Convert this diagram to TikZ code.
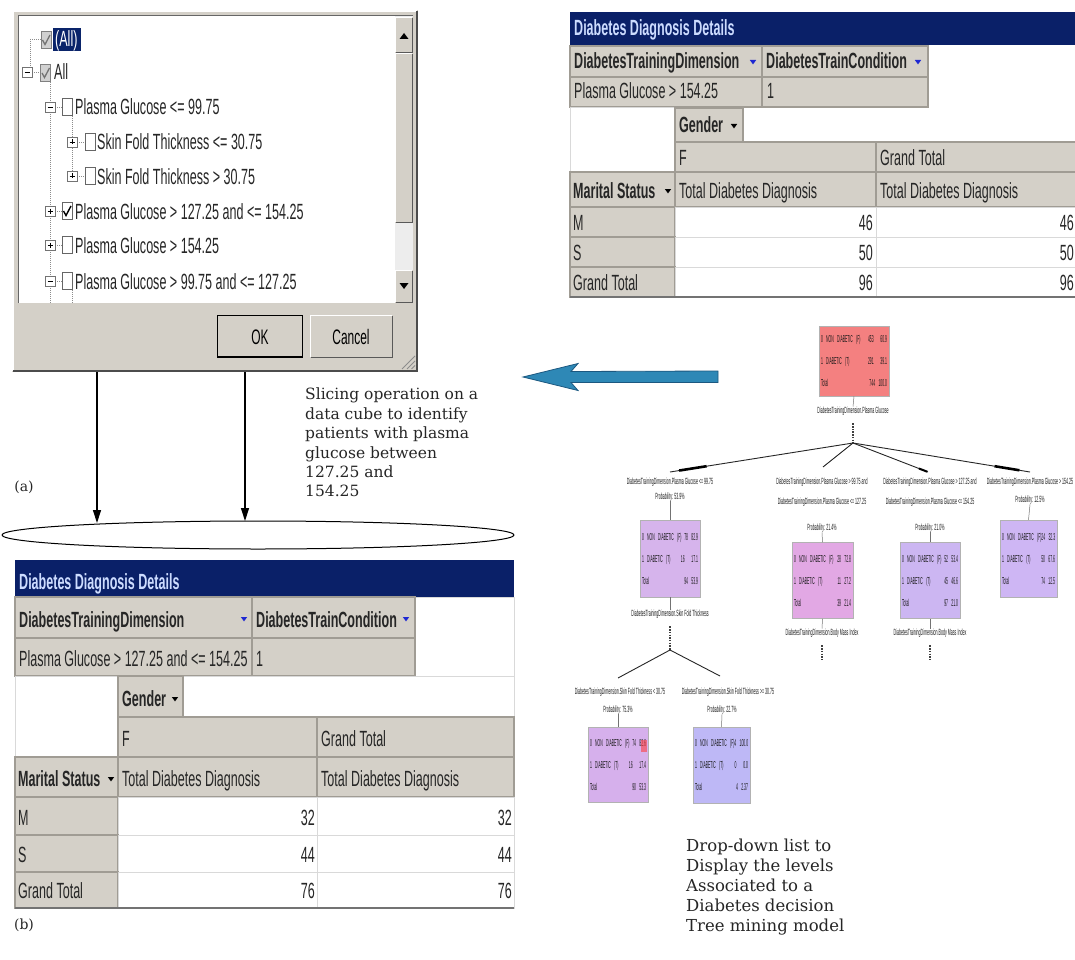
\documentclass[tikz,border=0pt]{standalone}
\usepackage{fontspec}
\usetikzlibrary{arrows.meta,calc,shapes.geometric}
\setmainfont{DejaVu Serif}
\newfontfamily\nrw[FakeStretch=0.57]{Liberation Sans}
\newfontfamily\tnrw[FakeStretch=0.4]{Liberation Sans}
\newfontfamily\bnrw[FakeStretch=0.34]{Liberation Sans}
\definecolor{tblnavy}{RGB}{10,32,104}
\definecolor{titletxt}{RGB}{205,220,255}
\definecolor{cellgray}{RGB}{212,208,200}
\definecolor{cellline}{RGB}{160,156,148}
\definecolor{selblue}{RGB}{10,36,106}
\definecolor{ddblue}{RGB}{30,40,210}
\definecolor{arrowblue}{RGB}{46,136,182}
\definecolor{arrowedge}{RGB}{28,88,128}
\definecolor{rootred}{RGB}{244,128,128}
\definecolor{lavA}{RGB}{214,180,236}
\definecolor{lavB}{RGB}{226,168,228}
\definecolor{lavC}{RGB}{204,182,242}
\definecolor{lavD}{RGB}{206,182,244}
\definecolor{lavE}{RGB}{214,176,236}
\definecolor{lavF}{RGB}{190,184,246}
\newcommand\gcell[4]{\path[gcellsty] (#1,#2) rectangle (#3,#4);}
\newcommand\wcell[4]{\path[wcellsty] (#1,#2) rectangle (#3,#4);}
\newcommand\raisedbox[4]{%
  \fill[cellgray] (#1,#2) rectangle (#3,#4);
  \draw[white,line width=1.2] (#1+0.6,#4-0.6) -- (#1+0.6,#2+0.6) -- (#3-0.6,#2+0.6);
  \draw[black!65,line width=1.2] (#1+0.6,#4-0.6) -- (#3-0.6,#4-0.6) -- (#3-0.6,#2+0.6);}
% one row of a tree box: label on the left, counts on the right
\newcommand\boxrow[2]{\hbox to\hsize{#1\hfil #2}}
\newcommand\boxrows[3]{\vbox{\boxrow{0 NON DIABETIC (F)}{#1}\boxrow{1 DIABETIC (T)}{#2}\boxrow{Total}{#3}}}
\tikzset{
  tt/.style={inner sep=0pt, anchor=base west, text=black!85, font=\nrw\fontsize{22}{24}\selectfont},
  ttb/.style={tt, font=\nrw\bfseries\fontsize{22}{24}\selectfont},
  tn/.style={tt, anchor=base east},
  btn/.style={inner sep=0pt, font=\nrw\fontsize{21}{23}\selectfont},
  capsty/.style={inner sep=0pt, text=black!85},
  gcellsty/.style={fill=cellgray, draw=cellline, line width=1.1},
  wcellsty/.style={fill=white, draw=black!15, line width=0.8},
  treedot/.style={black!45, dash pattern=on 1pt off 1pt, line width=0.7},
  tlab/.style={inner sep=0pt, text=black!90, font=\tnrw\fontsize{9}{9.5}\selectfont},
  tbox/.style={draw=black!30, line width=0.5, inner sep=2pt, text=black!90,
    font=\bnrw\fontsize{10}{22}\selectfont},
  tick/.style={black!55, line width=0.5},
  stub/.style={black!75, line width=1.3, dash pattern=on 1.5pt off 1.2pt},
  branch/.style={black!85, line width=0.9},
  vdown/.style={black, line width=1.3, -{Triangle[length=13pt,width=8pt]}},
  expminus/.pic={\draw[black!55, fill=white, line width=0.6] (-5,-5) rectangle (5,5);
    \draw[black, line width=0.8] (-2.5,0) -- (2.5,0);},
  expplus/.pic={\draw[black!55, fill=white, line width=0.6] (-5,-5) rectangle (5,5);
    \draw[black, line width=0.8] (-2.5,0) -- (2.5,0) (0,-2.5) -- (0,2.5);},
  chkbox/.pic={\draw[black!60, fill=white, line width=0.7] (-5,-8.5) rectangle (5,8.5);},
  chkon/.pic={\draw[black!60, fill=white, line width=0.7] (-5,-8.5) rectangle (5,8.5);
    \draw[black, line width=1.4] (-3.5,0) -- (-1,4.5) -- (4,-5);},
  chkgray/.pic={\draw[black!50, fill=black!18, line width=0.7] (-5,-8.5) rectangle (5,8.5);
    \draw[black!55, line width=1.3] (-3.5,0) -- (-1,4.5) -- (4,-5);},
  ddmark/.pic={\fill (-3.2,-2) -- (3.2,-2) -- (0,2.4) -- cycle;},
}
\begin{document}
\begin{tikzpicture}[x=1pt,y=-1pt]
\clip (0,0) rectangle (1075,960);
\fill[white] (0,0) rectangle (1075,960);

% ---------- filter dialog ----------
\fill[cellgray] (12,10) rectangle (418,372);
\draw[white,line width=1.5] (12.8,371) -- (12.8,10.8) -- (417,10.8);
\draw[black!70,line width=1.5] (12.8,371.2) -- (417.2,371.2) -- (417.2,10.8);
\fill[white] (18,16) rectangle (395,303);
\draw[black!60,line width=1] (18,303) -- (18,16) -- (413,16);
% scroll bar
\fill[black!7] (395,16.5) rectangle (413,303);
\raisedbox{395}{17}{413}{53}
\fill[black] (399.5,39) -- (408.5,39) -- (404,33) -- cycle;
\raisedbox{395}{53}{413}{223}
\raisedbox{395}{270}{413}{303}
\fill[black] (399.5,283) -- (408.5,283) -- (404,289) -- cycle;
% tree lines of the member list
\draw[treedot] (30,39) -- (41,39) (30,39) -- (30,67) (32,72) -- (40,72);
\draw[treedot] (50,82) -- (50,303) (72,116) -- (72,176) (72,290) -- (72,303);
\foreach \c in {107,211,245,281} {\draw[treedot] (55,\c) -- (62,\c);}
\foreach \c in {142,176} {\draw[treedot] (77,\c) -- (85,\c);}
% members
\path (46,40) pic {chkgray};
\fill[selblue] (53,28) rectangle (81,51);
\node[tt, text=white] (mAllp) at (55,47) {(All)};
\path (27,72) pic {expminus};
\path (45.5,73) pic {chkgray};
\node[tt] (mAll) at (54,80) {All};
\path (50,107) pic {expminus};   \path (67,107) pic {chkbox};
\node[tt] (m1) at (75,115) {Plasma Glucose <= 99.75};
\path (72,142) pic {expplus};    \path (90,142) pic {chkbox};
\node[tt] (m2) at (97,150) {Skin Fold Thickness <= 30.75};
\path (72,176) pic {expplus};    \path (90,176) pic {chkbox};
\node[tt] (m3) at (97,184) {Skin Fold Thickness > 30.75};
\path (50,211) pic {expplus};    \path (67,211) pic {chkon};
\node[tt] (m4) at (75,219) {Plasma Glucose > 127.25 and <= 154.25};
\path (50,245) pic {expplus};    \path (67,245) pic {chkbox};
\node[tt] (m5) at (75,253) {Plasma Glucose > 154.25};
\path (50,281) pic {expminus};   \path (67,281) pic {chkbox};
\node[tt] (m6) at (75,289) {Plasma Glucose > 99.75 and <= 127.25};
% buttons
\raisedbox{217}{315}{303}{358}
\draw[black,line width=1] (217.5,315.5) rectangle (302.5,357.5);
\draw[black,line width=2.5] (217,357) -- (303,357);
\node[btn] (okb) at (260,337) {OK};
\raisedbox{310}{315}{393}{358}
\node[btn] (cnb) at (351,337) {Cancel};
\draw[black!45,line width=1] (402,369) -- (415,356) (407,369) -- (415,361) (411.5,369) -- (415,365.5);

% ---------- arrows down to the slice ----------
\coordinate (dA) at (97,372);
\coordinate (dB) at (245,372);
\node[draw, line width=1, ellipse, minimum width=512, minimum height=28, inner sep=0] (slice) at (258,535) {};
\coordinate (eA) at (97,523);
\coordinate (eB) at (245,521);
\draw[vdown] (dA) -- (eA);
\draw[vdown] (dB) -- (eB);
\node[capsty, font=\fontsize{14}{16}\selectfont] (labA) at (24,487) {(a)};
\node[capsty, anchor=north west, align=left, font=\fontsize{15.5}{19.4}\selectfont] (slc) at (305,388)
  {Slicing operation on a\\data cube to identify\\patients with plasma\\glucose between\\127.25 and\\154.25};

% ---------- block arrow ----------
\filldraw[fill=arrowblue, draw=arrowedge, line width=0.8]
  (523,377) -- (578,363.5) -- (571,371.5) -- (718,371) -- (718,382.5) -- (571,382.5) -- (578,390.5) -- cycle;

% ---------- upper pivot table ----------
\fill[tblnavy] (570,12) rectangle (1075,45);
\node[ttb, text=titletxt] (uT) at (574,36) {Diabetes Diagnosis Details};
\gcell{570}{46}{762}{77} \gcell{762}{46}{928}{77}
\gcell{570}{77}{762}{107} \gcell{762}{77}{928}{107}
\node[ttb] (uT1) at (574,69) {DiabetesTrainingDimension};
\path (753,62) pic[color=ddblue] {ddmark};
\node[ttb] (uT2) at (766,69) {DiabetesTrainCondition};
\path (918,62) pic[color=ddblue] {ddmark};
\node[tt] (uT3) at (574,99) {Plasma Glucose > 154.25};
\node[tt] (uT4) at (767,99) {1};
\wcell{570}{107}{675}{172}
\gcell{675}{108}{743}{142}
\node[ttb] (uT5) at (679,133) {Gender};
\path (734,126) pic {ddmark};
\gcell{675}{142}{876}{172} \gcell{876}{142}{1080}{172}
\node[tt] (uT6) at (679,165) {F};
\node[tt] (uT7) at (880,165) {Grand Total};
\gcell{570}{172}{675}{207} \gcell{675}{172}{876}{207} \gcell{876}{172}{1080}{207}
\node[ttb] (uT8) at (573,198) {Marital Status};
\path (668,191) pic {ddmark};
\node[tt] (uT9) at (679,198) {Total Diabetes Diagnosis};
\node[tt] (uT10) at (880,198) {Total Diabetes Diagnosis};
\gcell{570}{207}{675}{237} \wcell{675}{207}{876}{237} \wcell{876}{207}{1080}{237}
\gcell{570}{237}{675}{267} \wcell{675}{237}{876}{267} \wcell{876}{237}{1080}{267}
\gcell{570}{267}{675}{297} \wcell{675}{267}{876}{297} \wcell{876}{267}{1080}{297}
\node[tt] (uM) at (573,230) {M};
\node[tn] (uM1) at (873,230) {46};
\node[tn] (uM2) at (1074,230) {46};
\node[tt] (uS) at (573,260) {S};
\node[tn] (uS1) at (873,260) {50};
\node[tn] (uS2) at (1074,260) {50};
\node[tt] (uG) at (573,290) {Grand Total};
\node[tn] (uG1) at (873,290) {96};
\node[tn] (uG2) at (1074,290) {96};
\draw[black!55,line width=1.5] (570,297) -- (1075,297);

% ---------- lower pivot table ----------
\fill[tblnavy] (15,560) rectangle (514,597);
\node[ttb, text=titletxt] (bT) at (19,589) {Diabetes Diagnosis Details};
\wcell{415}{597}{514}{676}
\gcell{15}{597}{252}{638} \gcell{252}{597}{415}{638}
\gcell{15}{638}{252}{676} \gcell{252}{638}{415}{676}
\node[ttb] (bT1) at (19,627) {DiabetesTrainingDimension};
\path (244,619) pic[color=ddblue] {ddmark};
\node[ttb] (bT2) at (256,627) {DiabetesTrainCondition};
\path (406,619) pic[color=ddblue] {ddmark};
\node[tt] (bT3) at (19,666) {Plasma Glucose > 127.25 and <= 154.25};
\node[tt] (bT4) at (256,666) {1};
\wcell{15}{676}{118}{757} \wcell{183}{676}{514}{717}
\gcell{118}{676}{183}{717}
\node[ttb] (bT5) at (122,706) {Gender};
\path (175,699) pic {ddmark};
\gcell{118}{717}{317}{757} \gcell{317}{717}{514}{757}
\node[tt] (bT6) at (122,746) {F};
\node[tt] (bT7) at (321,746) {Grand Total};
\gcell{15}{757}{118}{797} \gcell{118}{757}{317}{797} \gcell{317}{757}{514}{797}
\node[ttb] (bT8) at (18,786) {Marital Status};
\path (111,779) pic {ddmark};
\node[tt] (bT9) at (122,786) {Total Diabetes Diagnosis};
\node[tt] (bT10) at (321,786) {Total Diabetes Diagnosis};
\gcell{15}{797}{118}{835} \wcell{118}{797}{317}{835} \wcell{317}{797}{514}{835}
\gcell{15}{835}{118}{872} \wcell{118}{835}{317}{872} \wcell{317}{835}{514}{872}
\gcell{15}{872}{118}{908} \wcell{118}{872}{317}{908} \wcell{317}{872}{514}{908}
\node[tt] (bM) at (18,825) {M};
\node[tn] (bM1) at (315,825) {32};
\node[tn] (bM2) at (512,825) {32};
\node[tt] (bS) at (18,862) {S};
\node[tn] (bS1) at (315,862) {44};
\node[tn] (bS2) at (512,862) {44};
\node[tt] (bG) at (18,898) {Grand Total};
\node[tn] (bG1) at (315,898) {76};
\node[tn] (bG2) at (512,898) {76};
\draw[black!55,line width=1.5] (15,908) -- (514,908);
\node[capsty, font=\fontsize{14}{16}\selectfont] (labB) at (24,925) {(b)};

% ---------- decision tree ----------
\node[tbox, fill=rootred, text width=66, minimum height=70] (rt) at (854,361) {\boxrows{453\ \ 60.9}{291\ \ 39.1}{744\ 100.0}};
\node[tlab] (rtl) at (853,411) {DiabetesTrainingDimension.Plasma Glucose};
\draw[tick] (rt.south) -- (rtl.north);
\coordinate (rts) at (853,443);
\draw[stub, shorten <=8pt] (rtl.south) -- (rts);
\coordinate (c1e) at (670,472);
\coordinate (c2e) at (823,467);
\coordinate (c3e) at (928,472);
\coordinate (c4e) at (1030,472);
\draw[branch] (rts) -- (c1e);
\draw[branch] (rts) -- (c2e);
\draw[branch] (rts) -- (c3e);
\draw[branch] (rts) -- (c4e);
\draw[black, line width=2.6] ($(rts)!0.80!(c1e)$) -- ($(rts)!0.95!(c1e)$);
\draw[black, line width=2.6] ($(rts)!0.80!(c4e)$) -- ($(rts)!0.94!(c4e)$);
\draw[black, line width=2] ($(rts)!0.88!(c3e)$) -- ($(rts)!0.99!(c3e)$);

% child 1
\node[tlab] (c1l) at (670,482) {DiabetesTrainingDimension.Plasma Glucose <= 99.75};
\node[tlab] (c1p) at (670,497) {Probability: 53.9\%};
\node[tbox, fill=lavA, text width=56, minimum height=77] (c1) at (670,558.5) {\boxrows{78\ 82.9}{16\ \ 17.1}{94\ 53.9}};
\draw[tick] (c1p.south) -- (c1.north);
\node[tlab] (c1n) at (670,614) {DiabetesTrainingDimension.Skin Fold Thickness};
\draw[tick] (c1.south) -- (c1n.north);
\coordinate (c1s) at (670,650);
\draw[stub, shorten <=8pt] (c1n.south) -- (c1s);
% child 2
\node[tlab] (c2l) at (822,482) {DiabetesTrainingDimension.Plasma Glucose > 99.75 and};
\node[tlab] (c2m) at (822,502) {DiabetesTrainingDimension.Plasma Glucose <= 127.25};
\node[tlab] (c2p) at (822,528) {Probability: 21.4\%};
\node[tbox, fill=lavB, text width=57, minimum height=76] (c2) at (822.5,580.5) {\boxrows{28\ 72.8}{11\ 27.2}{39\ 21.4}};
\draw[tick] (c2p.south) -- (c2.north);
\node[tlab] (c2n) at (822,633) {DiabetesTrainingDimension.Body Mass Index};
\draw[tick] (c2.south) -- (c2n.north);
\coordinate (c2s) at (822,659);
\draw[stub, shorten <=8pt] (c2n.south) -- (c2s);
% child 3
\node[tlab] (c3l) at (930,482) {DiabetesTrainingDimension.Plasma Glucose > 127.25 and};
\node[tlab] (c3m) at (930,502) {DiabetesTrainingDimension.Plasma Glucose <= 154.25};
\node[tlab] (c3p) at (930,528) {Probability: 21.0\%};
\node[tbox, fill=lavC, text width=56, minimum height=76] (c3) at (930,580.5) {\boxrows{52\ 53.4}{45\ 46.6}{97\ 21.0}};
\draw[tick] (c3p.south) -- (c3.north);
\node[tlab] (c3n) at (930,633) {DiabetesTrainingDimension.Body Mass Index};
\draw[tick] (c3.south) -- (c3n.north);
\coordinate (c3s) at (930,659);
\draw[stub, shorten <=8pt] (c3n.south) -- (c3s);
% child 4
\node[tlab] (c4l) at (1030,482) {DiabetesTrainingDimension.Plasma Glucose > 154.25};
\node[tlab] (c4p) at (1030,500) {Probability: 12.5\%};
\node[tbox, fill=lavD, text width=53, minimum height=77] (c4) at (1028.5,558.5) {\boxrows{24\ 32.3}{50\ 67.6}{74\ 12.5}};
\draw[tick] (c4p.south) -- (c4.north);
% grandchildren
\coordinate (g1e) at (618,678);
\coordinate (g2e) at (720,676);
\draw[branch] (c1s) -- (g1e);
\draw[branch] (c1s) -- (g2e);
\node[tlab] (g1l) at (620,692) {DiabetesTrainingDimension.Skin Fold Thickness < 30.75};
\node[tlab] (g2l) at (728,692) {DiabetesTrainingDimension.Skin Fold Thickness >= 30.75};
\node[tlab] (g1p) at (618,710) {Probability: 75.3\%};
\node[tlab] (g2p) at (722,710) {Probability: 22.7\%};
\node[tbox, fill=lavE, text width=56, minimum height=75] (g1) at (618,764.5) {\boxrows{74\ 82.6}{16\ \ 17.4}{90\ 53.3}};
\node[tbox, fill=lavF, text width=53, minimum height=76] (g2) at (721.5,765) {\boxrows{4\ 100.0}{0\ \ 0.0}{4\ 2.37}};
\fill[red!75, opacity=0.6] (641,740) rectangle (647,752);
\draw[tick] (g1p.south) -- (g1.north);
\draw[tick] (g2p.south) -- (g2.north);

\node[capsty, anchor=north west, align=left, font=\fontsize{16.5}{20}\selectfont] (ddl) at (686,839)
  {Drop-down list to\\Display the levels\\Associated to a\\Diabetes decision\\Tree mining model};
\end{tikzpicture}
\end{document}
